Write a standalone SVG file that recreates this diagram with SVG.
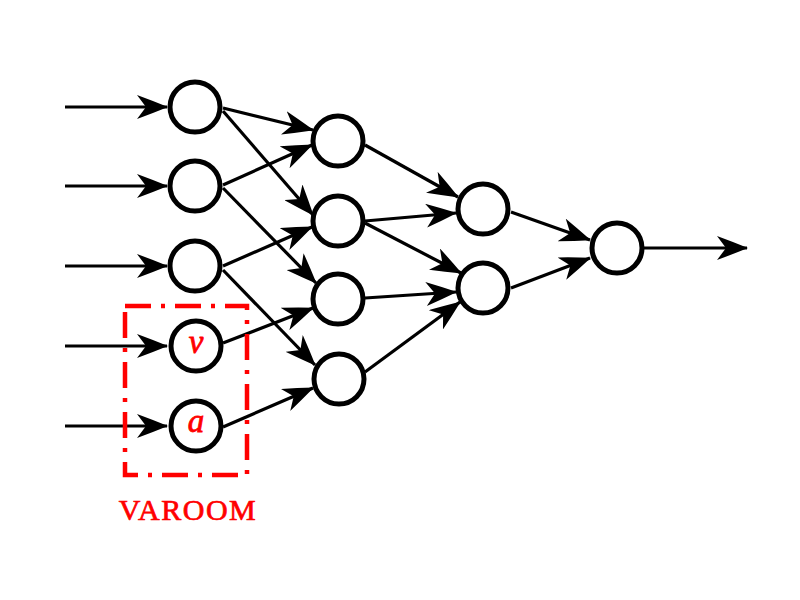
<svg xmlns="http://www.w3.org/2000/svg" width="800" height="600" viewBox="0 0 800 600">
<style>
.node{fill:#fff;stroke:#000;stroke-width:5}
.edge{stroke:#000;stroke-width:3.2;fill:none;marker-end:url(#arr)}
.lbl{font-family:"Liberation Serif",serif;font-style:italic;fill:#f00;stroke:#f00;stroke-width:0.8;font-size:33px;text-anchor:middle}
</style>
<defs>
<marker id="arr" markerUnits="userSpaceOnUse" viewBox="0 0 31 24" refX="30" refY="12" markerWidth="31" markerHeight="24" orient="auto">
<path d="M0,0 Q15,5.5 31,12 Q15,18.5 0,24 L9,12 Z" fill="#000"/>
</marker>
</defs>
<rect width="800" height="600" fill="#fff"/>
<g id="connectors">
<line class="edge" x1="65" y1="107" x2="167" y2="107"/>
<line class="edge" x1="65" y1="186" x2="167" y2="186"/>
<line class="edge" x1="65" y1="266" x2="167" y2="266"/>
<line class="edge" x1="65" y1="346" x2="167" y2="346"/>
<line class="edge" x1="65" y1="426" x2="167" y2="426"/>
<line class="edge" x1="223" y1="108" x2="313" y2="130"/>
<line class="edge" x1="223" y1="111" x2="313" y2="215"/>
<line class="edge" x1="223" y1="185" x2="312" y2="145"/>
<line class="edge" x1="223" y1="188" x2="316" y2="283"/>
<line class="edge" x1="223" y1="266" x2="312" y2="227"/>
<line class="edge" x1="223" y1="270" x2="315" y2="365"/>
<line class="edge" x1="223" y1="343" x2="313" y2="308"/>
<line class="edge" x1="223" y1="427" x2="313" y2="388"/>
<line class="edge" x1="365" y1="145" x2="458" y2="197"/>
<line class="edge" x1="365" y1="221" x2="456" y2="213"/>
<line class="edge" x1="365" y1="223" x2="461" y2="273"/>
<line class="edge" x1="365" y1="298" x2="456" y2="292"/>
<line class="edge" x1="365" y1="372" x2="460" y2="302"/>
<line class="edge" x1="511" y1="212" x2="590" y2="240"/>
<line class="edge" x1="511" y1="288" x2="590" y2="258"/>
<line class="edge" x1="643" y1="248" x2="747" y2="248"/>
</g>
<g id="n1"><circle class="node" cx="195" cy="107" r="25"/></g>
<g id="n2"><circle class="node" cx="195" cy="186" r="25"/></g>
<g id="n3"><circle class="node" cx="195" cy="266" r="25"/></g>
<g id="nv"><circle class="node" cx="196" cy="346" r="25"/><text class="lbl" x="196" y="353">v</text></g>
<g id="na"><circle class="node" cx="196" cy="426" r="25"/><text class="lbl" x="196" y="432">a</text></g>
<g id="c1"><circle class="node" cx="338" cy="141" r="25"/></g>
<g id="c2"><circle class="node" cx="338" cy="221" r="25"/></g>
<g id="c3"><circle class="node" cx="338" cy="299" r="25"/></g>
<g id="c4"><circle class="node" cx="339" cy="379" r="25"/></g>
<g id="d1"><circle class="node" cx="483" cy="209" r="25"/></g>
<g id="d2"><circle class="node" cx="483" cy="288" r="25"/></g>
<g id="e1"><circle class="node" cx="617" cy="248" r="25"/></g>
<g id="varoom">
<rect x="125" y="306" width="122" height="169" fill="none" stroke="#f00" stroke-width="4.5" stroke-dasharray="26 10 4 10"/>
<text x="188" y="520" font-family="Liberation Serif,serif" font-size="30" fill="#f00" stroke="#f00" stroke-width="0.7" text-anchor="middle" letter-spacing="1.5">VAROOM</text>
</g>
</svg>
